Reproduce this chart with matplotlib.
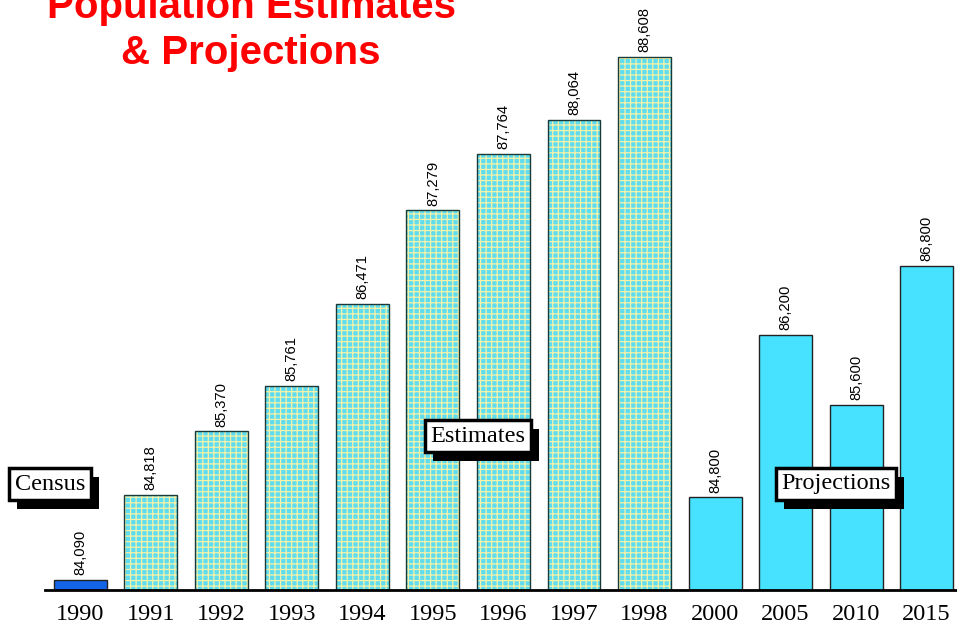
import matplotlib.pyplot as plt
from matplotlib.patches import Rectangle

# chart data
years = ['1990', '1991', '1992', '1993', '1994', '1995', '1996', '1997', '1998',
         '2000', '2005', '2010', '2015']
population = [84090, 84818, 85370, 85761, 86471, 87279, 87764, 88064, 88608,
              84800, 86200, 85600, 86800]
kind = ['census'] + ['estimate'] * 8 + ['projection'] * 4

COLOR_CENSUS = '#1464e6'
COLOR_EST_BG = '#5edcf0'
COLOR_EST_HATCH = '#f6f2a8'
COLOR_PROJ = '#46e2ff'

plt.rcParams['hatch.linewidth'] = 0.9

fig = plt.figure(figsize=(9.57, 6.27), dpi=100)
ax = fig.add_axes([45 / 957, 37 / 627, 912 / 957, 590 / 627])

x = list(range(len(years)))
w = 0.75
base = 84000

for xi, val, k in zip(x, population, kind):
    h = val - base
    if k == 'estimate':
        # patterned fill, then the outline on top
        ax.bar(xi, h, w, bottom=base, color=COLOR_EST_BG, edgecolor=COLOR_EST_HATCH,
               hatch='+++', linewidth=0)
        ax.bar(xi, h, w, bottom=base, fill=False, edgecolor='#1a3a3a', linewidth=1)
    else:
        c = COLOR_CENSUS if k == 'census' else COLOR_PROJ
        ax.bar(xi, h, w, bottom=base, color=c, edgecolor='#222222', linewidth=1)
    ax.annotate(f'{val:,}', (xi, val), xytext=(0, 3.5), textcoords='offset points',
                rotation=90, ha='center', va='bottom', fontsize=10.6,
                family='Liberation Sans')

ax.set_xlim(-0.5, 12.43)
ax.set_ylim(base, 89097)
ax.set_xticks(x)
ax.set_xticklabels(years, family='Liberation Serif', fontsize=17.5)
ax.tick_params(axis='x', length=0, pad=10)
ax.set_yticks([])
for s in ['left', 'right', 'top']:
    ax.spines[s].set_visible(False)
ax.spines['bottom'].set_linewidth(2)

# title
fig.text(251 / 957, 1 - 18 / 627, 'Population Estimates', color='#ff0000', fontsize=29,
         fontweight='bold', family='Liberation Sans', ha='center', va='baseline')
fig.text(251 / 957, 1 - 64 / 627, '& Projections', color='#ff0000', fontsize=29,
         fontweight='bold', family='Liberation Sans', ha='center', va='baseline')

# labelled boxes, shadow added after layout
boxes = [('Census', 50, 484), ('Estimates', 478, 436), ('Projections', 836, 484)]
labels = []
for label, px, py in boxes:
    t = fig.text(px / 957, 1 - py / 627, label, family='Liberation Serif', fontsize=17.5,
                 ha='center', va='center', color='black', zorder=5,
                 bbox=dict(boxstyle='square,pad=0.22', fc='white', ec='black', lw=2.5))
    labels.append(t)

fig.canvas.draw()
for t in labels:
    bb = t.get_bbox_patch().get_window_extent()
    fig.patches.append(Rectangle((bb.x0 + 8, bb.y0 - 9), bb.width, bb.height,
                                 transform=None, fc='black', ec='none', zorder=4))

plt.savefig('out.png', dpi=100)
